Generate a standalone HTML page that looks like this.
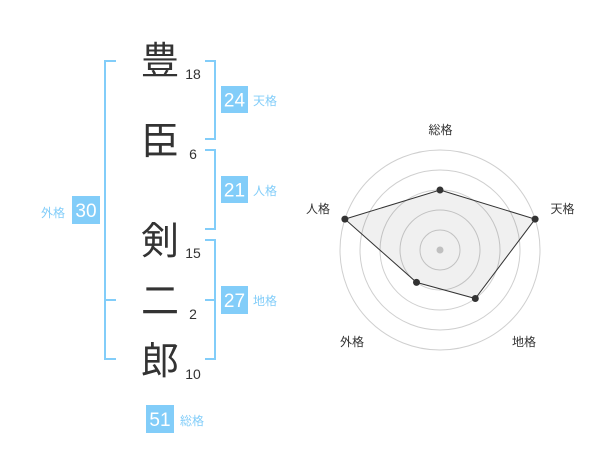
<!DOCTYPE html>
<html><head><meta charset="utf-8">
<style>
html,body{margin:0;padding:0;background:#fff;}
body{width:600px;height:470px;overflow:hidden;}
svg{display:block;}
</style></head>
<body>
<svg width="600" height="470" viewBox="0 0 600 470" xmlns="http://www.w3.org/2000/svg">
  <g fill="none" stroke="#82cdf9" stroke-width="2">
    <!-- left bracket (外格) -->
    <polyline points="116,61 105,61 105,359 116,359"/>
    <line x1="105" y1="300" x2="116" y2="300"/>
    <!-- right bracket 天格 -->
    <polyline points="205,61 215,61 215,139 205,139"/>
    <!-- right bracket 人格 -->
    <polyline points="205,150 215,150 215,229 205,229"/>
    <!-- right bracket 地格 -->
    <polyline points="205,240 215,240 215,359 205,359"/>
    <line x1="205" y1="300" x2="215" y2="300"/>
  </g>

  <!-- big characters -->
  <g font-family="'Liberation Sans','Noto Sans CJK JP',sans-serif" font-size="38" fill="#333" text-anchor="middle">
    <text x="160" y="74">豊</text>
    <text x="160" y="154">臣</text>
    <text x="160" y="254">剣</text>
    <text x="160" y="314">二</text>
    <text x="160" y="374">郎</text>
  </g>
  <!-- stroke counts -->
  <g font-family="'Liberation Sans',sans-serif" font-size="14" fill="#333" text-anchor="middle">
    <text x="193" y="79">18</text>
    <text x="193" y="159">6</text>
    <text x="193" y="258">15</text>
    <text x="193" y="319">2</text>
    <text x="193" y="379">10</text>
  </g>

  <!-- boxes -->
  <g fill="#82cdf9">
    <rect x="221" y="86" width="27" height="27"/>
    <rect x="221" y="176" width="27" height="27"/>
    <rect x="221" y="286" width="27" height="28"/>
    <rect x="72" y="196" width="28" height="28"/>
    <rect x="146" y="405" width="28" height="28"/>
  </g>
  <g font-family="'Liberation Sans',sans-serif" font-size="19" fill="#fff" text-anchor="middle">
    <text x="234.5" y="106.5">24</text>
    <text x="234.5" y="196.5">21</text>
    <text x="234.5" y="307">27</text>
    <text x="86" y="217">30</text>
    <text x="160" y="426">51</text>
  </g>
  <g font-family="'Liberation Sans','Noto Sans CJK JP',sans-serif" font-size="12" fill="#82cdf9">
    <text x="253" y="105">天格</text>
    <text x="253" y="195">人格</text>
    <text x="253" y="305">地格</text>
    <text x="41" y="217">外格</text>
    <text x="180" y="425">総格</text>
  </g>

  <!-- radar -->
  <g fill="none" stroke="#cfcfcf" stroke-width="1">
    <circle cx="440" cy="250" r="20"/>
    <circle cx="440" cy="250" r="40"/>
    <circle cx="440" cy="250" r="60"/>
    <circle cx="440" cy="250" r="80"/>
    <circle cx="440" cy="250" r="100"/>
  </g>
  <circle cx="440" cy="250" r="3.5" fill="#cccccc"/>
  <polygon points="440,190 535.1,219.1 475.3,298.5 416.5,282.4 344.9,219.1" fill="rgba(0,0,0,0.06)" stroke="#333" stroke-width="1"/>
  <g fill="#333">
    <circle cx="440" cy="190" r="3.5"/>
    <circle cx="535.1" cy="219.1" r="3.5"/>
    <circle cx="475.3" cy="298.5" r="3.5"/>
    <circle cx="416.5" cy="282.4" r="3.5"/>
    <circle cx="344.9" cy="219.1" r="3.5"/>
  </g>
  <g font-family="'Liberation Sans','Noto Sans CJK JP',sans-serif" font-size="12" fill="#333" text-anchor="middle">
    <text x="440.5" y="134">総格</text>
    <text x="562.5" y="213">天格</text>
    <text x="318" y="213">人格</text>
    <text x="352" y="346">外格</text>
    <text x="524" y="346">地格</text>
  </g>
</svg>
</body></html>
